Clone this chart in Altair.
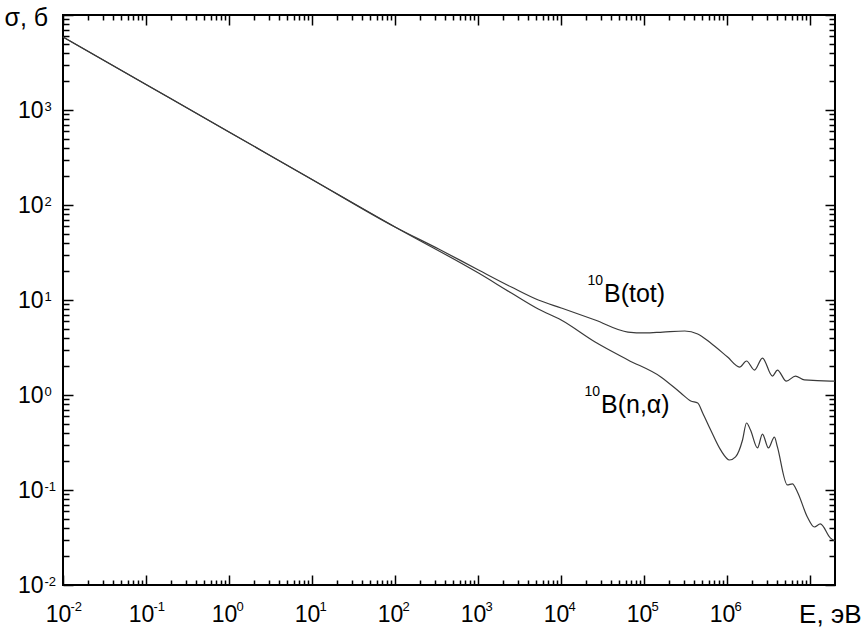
import altair as alt
import pandas as pd

# ---- data ----
tot_E = [0.01, 0.1, 1, 10, 100, 336, 1014, 2523, 5323, 10050, 25760, 64120,
         102500, 168600, 309700, 443600, 635700, 1.016e6, 1.416e6, 1.718e6,
         2.143e6, 2.673e6, 3.524e6, 4.047e6, 5.19e6, 6.67e6, 8.55e6, 1.754e7, 2e7]
tot_sigma = [5870, 1856, 587, 186, 58.7, 34.4, 20.7, 13.7, 10.0, 8.24, 6.16, 4.60,
             4.50, 4.60, 4.72, 4.39, 3.53, 2.51, 1.97, 2.28,
             1.83, 2.45, 1.58, 1.83, 1.40, 1.58, 1.44, 1.40, 1.40]

na_E = [0.01, 0.1, 1, 10, 100, 1014, 2523, 5323, 10050, 25760, 64120, 159600,
        277300, 365600, 443600, 509300, 635700, 837500, 1.074e6, 1.268e6, 1.538e6,
        1.718e6, 1.919e6, 2.328e6, 2.673e6, 3.155e6, 3.724e6, 4.047e6, 5.33e6,
        6.13e6, 7.05e6, 9.29e6, 1.127e7, 1.331e7, 1.754e7, 2e7]
na_sigma = [5870, 1856, 587, 186, 58.7, 19.2, 11.85, 8.04, 6.15, 3.61, 2.34, 1.55,
            1.05, 0.865, 0.824, 0.647, 0.428, 0.264, 0.207, 0.223, 0.336,
            0.507, 0.428, 0.277, 0.388, 0.277, 0.361, 0.284, 0.113,
            0.116, 0.0953, 0.052, 0.0408, 0.0439, 0.0313, 0.029]

label_text = ["B(tot)", "B(n,α)"]
label_sup = ["10", "10"]
label_E = [32960, 30340]
label_sigma = [9.5, 0.65]

x_major = [1e-2, 1e-1, 1e0, 1e1, 1e2, 1e3, 1e4, 1e5, 1e6, 1e7]
y_major = [1e-2, 1e-1, 1e0, 1e1, 1e2, 1e3, 1e4]
x_minor = [m * d for d in x_major[:-1] for m in range(2, 10)]
y_minor = [m * d for d in y_major[:-1] for m in range(2, 10)]

FONT = "Liberation Sans"

rows = []
for e, s in zip(tot_E, tot_sigma):
    rows.append({"E": e, "sigma": s, "series": "tot"})
for e, s in zip(na_E, na_sigma):
    rows.append({"E": e, "sigma": s, "series": "na"})
df = pd.DataFrame(rows)
df_lab = pd.DataFrame({"E": label_E, "sigma": label_sigma,
                       "text": label_text, "sup": label_sup})

xscale = alt.Scale(type="log", domain=[0.01, 2e7], nice=False)
yscale = alt.Scale(type="log", domain=[0.01, 1e4], nice=False)

common = dict(grid=False, domain=False, title=None, tickColor="black",
              tickWidth=1.5, labelOverlap=False, labelFlush=False, labelBound=False)


def tick_axis(orient, values, size, labels=False, **kw):
    d = dict(common)
    d.update(orient=orient, values=values, offset=-size, tickSize=size, labels=labels)
    d.update(kw)
    return alt.Axis(**d)


# visible lines with bottom/left major ticks and "10" labels
ax_b_major = tick_axis("bottom", x_major, 10, labels=True,
                       labelExpr="datum.value > 2000000 ? '' : '10'",
                       labelFont=FONT, labelFontSize=23, labelColor="black",
                       labelAlign="center", labelBaseline="alphabetic",
                       labelPadding=36, labelOffset=-5)
ax_l_major = tick_axis("left", y_major, 10, labels=True,
                       labelExpr="datum.value > 2000 ? '' : '10'",
                       labelFont=FONT, labelFontSize=23, labelColor="black",
                       labelAlign="right", labelBaseline="middle",
                       labelPadding=20)

exp_common = dict(common)
exp_common.pop("title")
ax_b_exp = alt.Axis(**exp_common, title="E, эВ", orient="bottom", values=x_major[:-1],
                    ticks=False, tickSize=0,
                    labelExpr="'' + round(log(datum.value) / LN10)",
                    labelFont=FONT, labelFontSize=13, labelColor="black",
                    labelAlign="left", labelBaseline="alphabetic",
                    labelPadding=25, labelOffset=7,
                    titleFont=FONT, titleFontSize=26, titleFontWeight="normal",
                    titleColor="black", titleX=798, titleY=37,
                    titleAlign="right", titleBaseline="alphabetic")
ax_l_exp = alt.Axis(**exp_common, title="σ, б", orient="left", values=y_major[:-1],
                    ticks=False, tickSize=0,
                    labelExpr="'' + round(log(datum.value) / LN10)",
                    labelFont=FONT, labelFontSize=13, labelColor="black",
                    labelAlign="left", labelBaseline="alphabetic",
                    labelPadding=19,
                    titleFont=FONT, titleFontSize=25, titleFontWeight="normal",
                    titleColor="black", titleAngle=0, titleX=-59, titleY=10,
                    titleAlign="left", titleBaseline="alphabetic")

base = alt.Chart(df)


def line_layer(xaxis, yaxis, opacity):
    return base.mark_line(color="#3a3a3a", strokeWidth=1.2, opacity=opacity,
                          interpolate="monotone").encode(
        x=alt.X("E:Q", scale=xscale, axis=xaxis),
        y=alt.Y("sigma:Q", scale=yscale, axis=yaxis),
        detail="series:N",
    )


l1 = line_layer(ax_b_major, ax_l_major, 1)
l2 = line_layer(ax_b_exp, ax_l_exp, 0)
l3 = line_layer(tick_axis("bottom", x_minor, 5), tick_axis("left", y_minor, 6), 0)
l4 = line_layer(tick_axis("top", x_major, 10), tick_axis("right", y_major, 10), 0)
l5 = line_layer(tick_axis("top", x_minor, 5), tick_axis("right", y_minor, 6), 0)

lab_base = alt.Chart(df_lab).encode(
    x=alt.X("E:Q", scale=xscale, axis=None),
    y=alt.Y("sigma:Q", scale=yscale, axis=None),
)
t_main = lab_base.mark_text(font=FONT, fontSize=25, align="left",
                            baseline="alphabetic", color="black").encode(text="text:N")
t_sup = lab_base.mark_text(font=FONT, fontSize=14, align="right",
                           baseline="alphabetic", color="black", dx=-1, dy=-17).encode(text="sup:N")

chart = alt.layer(l1, l2, l3, l4, l5, t_main, t_sup).resolve_axis(
    x="independent", y="independent"
).properties(
    width=772, height=570,
    autosize=alt.AutoSizeParams(type="none"),
    padding={"left": 63, "top": 15, "right": 30, "bottom": 47},
    background="white",
).configure_view(stroke="black", strokeWidth=2)

chart.save("out.html", embed_options={"renderer": "svg", "actions": False})
